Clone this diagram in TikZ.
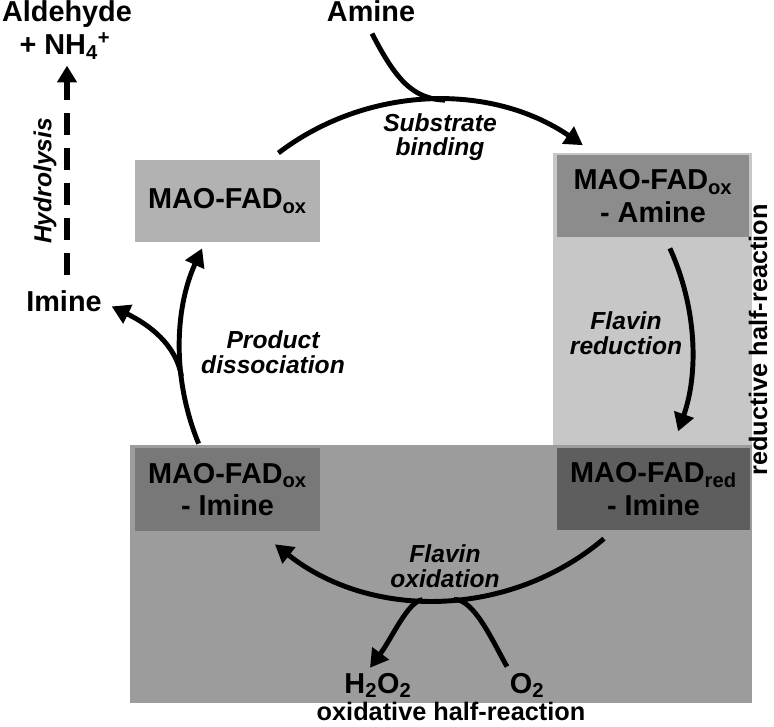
\documentclass[tikz,border=0pt]{standalone}
\usepackage{fontspec}
\setmainfont{Liberation Sans}
\usepackage{xcolor}
\usepackage{tikz}
\usetikzlibrary{arrows.meta}
\usetikzlibrary{calc, positioning}

\definecolor{fadox}{gray}{0.70}
\definecolor{fadoxam}{gray}{0.55}
\definecolor{fadoxim}{gray}{0.47}
\definecolor{fadred}{gray}{0.37}
\definecolor{redpanel}{gray}{0.78}
\definecolor{oxpanel}{gray}{0.61}

\begin{document}
\begin{tikzpicture}[x=0.025cm,y=-0.025cm,
                    main box/.style={inner sep=0pt,minimum width=4.63cm,minimum height=2.05cm,align=center,font=\fontsize{20.5}{23}\selectfont\bfseries},
                    chem/.style={inner sep=0pt,font=\fontsize{20.5}{23}\selectfont\bfseries},
                    proc/.style={inner sep=0pt,align=center,font=\fontsize{17.5}{17.5}\selectfont\bfseries\itshape},
                    half/.style={inner sep=0pt,font=\fontsize{18}{20}\selectfont\bfseries},
                    flow/.style={line width=3.5pt,-{Triangle[length=0.45cm,width=0.5cm]}},
                    feed/.style={line width=3.5pt},
                    hydro arrow/.style={line width=4pt,dash pattern=on 15.6pt off 9.3pt,-{Triangle[length=0.42cm,width=0.48cm]}}]

  \useasboundingbox (0,0) rectangle (774,727);

  % half-reaction panels
  \fill[redpanel] (553,153) rectangle (752,445);
  \fill[oxpanel] (130,445) rectangle (752,703);

  \node[main box,fill=fadox] (1) at (227.5,201) {MAO-FAD\textsubscript{ox}};
  \node[main box,fill=fadoxam,minimum width=4.8cm] (2) at (653,196) {MAO-FAD\textsubscript{ox}\\- Amine};
  \node[main box,fill=fadred,minimum width=4.8cm] (3) at (653.5,489) {MAO-FAD\textsubscript{red}\\- Imine};
  \node[main box,fill=fadoxim] (4) at (227.5,489.5) {MAO-FAD\textsubscript{ox}\\- Imine};

  \node[chem,anchor=base] (amine) at (371,22) {Amine};
  \node[chem,anchor=base] (ald) at (67,22) {Aldehyde};
  \node[chem,anchor=base] (nh4) at (65,55) {+ NH\textsubscript{4}\textsuperscript{+}};
  \node[chem,anchor=base] (imine) at (64,312) {Imine};
  \node[chem,anchor=base] (h2o2) at (378,693) {H\textsubscript{2}O\textsubscript{2}};
  \node[chem,anchor=base] (o2) at (527,693) {O\textsubscript{2}};

  \node[proc] (bind) at (440,137) {Substrate\\binding};
  \node[proc] (red) at (626,333) {Flavin\\reduction};
  \node[proc] (oxi) at (445,566) {Flavin\\oxidation};
  \node[proc] (diss) at (273,352) {Product\\dissociation};
  \node[proc,rotate=90] (hydro) at (45,181) {Hydrolysis};

  \node[half,rotate=90] (redhalf) at (758,340) {reductive half-reaction};
  \node[half,anchor=base] (oxhalf) at (451,720) {oxidative half-reaction};

  % catalytic cycle
  \coordinate (c) at (436,350);
  \path (c) ++(-128:256 and 250) coordinate (a1)
        (c) ++(-24:256 and 250) coordinate (a2)
        (c) ++(49:256 and 250) coordinate (a3)
        (c) ++(158:256 and 250) coordinate (a4)
        (c) ++(-88:256 and 250) coordinate (j1)
        (c) ++(174:256 and 250) coordinate (j2)
        (c) ++(93:256 and 250) coordinate (j3)
        (c) ++(86:256 and 250) coordinate (j4);

  \draw[flow] (a1) arc[start angle=-128,end angle=-55,x radius=256,y radius=250];
  \draw[flow] (a2) arc[start angle=-24,end angle=19,x radius=256,y radius=250];
  \draw[flow] (a3) arc[start angle=49,end angle=129,x radius=256,y radius=250];
  \draw[flow] (a4) arc[start angle=158,end angle=204,x radius=256,y radius=250];

  % side branches
  \draw[feed] (amine.south) ++(1,11) .. controls (395,78) and (412,99) .. (j1);
  \draw[flow,shorten >=0.27cm] (j2) .. controls (176,345) and (150,325) .. (imine.east);
  \draw[flow] (j3) .. controls (408,601) and (392,638) .. ([xshift=-0.2cm,yshift=0.12cm]h2o2.north);
  \draw[feed] ([xshift=-0.5cm,yshift=0.15cm]o2.north) .. controls (492,640) and (474,599) .. (j4);
  \draw[hydro arrow] ($(imine.north)+(3,-16)$) -- ($(imine.north |- nh4.south)+(3,6)$);

\end{tikzpicture}
\end{document}
